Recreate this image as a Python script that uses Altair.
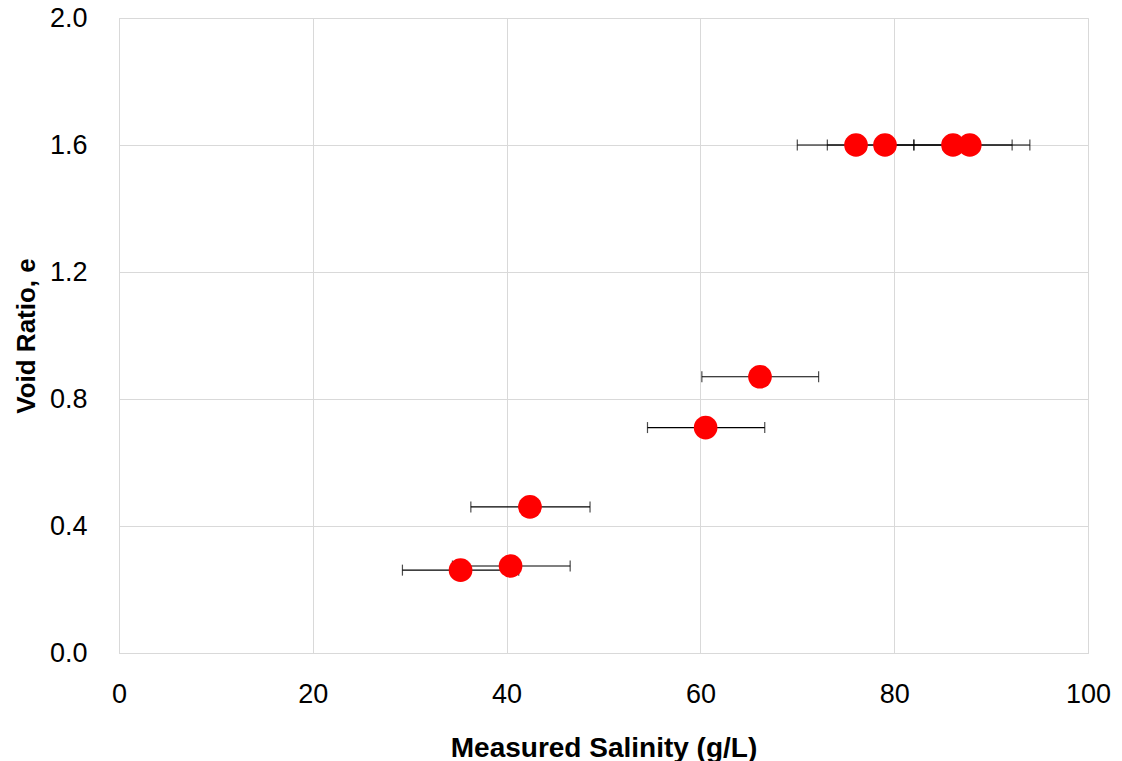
import altair as alt
import pandas as pd

salinity = [35.25, 40.41, 42.41, 60.54, 66.15, 76.06, 79.05, 86.07, 87.8]
void_ratio = [0.261, 0.274, 0.46, 0.710, 0.870, 1.6, 1.6, 1.6, 1.6]
err_low = [6.0, 6.0, 6.1, 6.0, 6.0, 6.06, 5.95, 6.07, 5.8]
err_high = [6.0, 6.15, 6.2, 6.1, 6.05, 6.0, 6.0, 6.1, 6.2]

df = pd.DataFrame({
    "x": salinity,
    "y": void_ratio,
    "lo": [s - e for s, e in zip(salinity, err_low)],
    "hi": [s + e for s, e in zip(salinity, err_high)],
})

xscale = alt.Scale(domain=[0, 100], nice=False, zero=True)
yscale = alt.Scale(domain=[0, 2.0], nice=False)

xaxis = alt.Axis(
    title="Measured Salinity (g/L)", values=[0, 20, 40, 60, 80, 100],
    format="d", ticks=False, domainColor="#d9d9d9", gridColor="#d9d9d9",
    labelFont="Liberation Sans", labelFontSize=27, labelColor="#000000",
    labelPadding=28, labelFlush=False, labelBound=False, labelOverlap=False,
    titleFont="Liberation Sans", titleFontSize=28,
    titleFontWeight="bold", titleColor="#000000", titlePadding=27,
)
yaxis = alt.Axis(
    title="Void Ratio, e", values=[0, 0.4, 0.8, 1.2, 1.6, 2.0],
    format=".1f", ticks=False, domainColor="#d9d9d9", gridColor="#d9d9d9",
    labelFont="Liberation Sans", labelFontSize=27, labelColor="#000000",
    labelPadding=32, labelFlush=False, labelBound=False, labelOverlap=False,
    titleFont="Liberation Sans", titleFontSize=26,
    titleFontWeight="bold", titleColor="#000000", titlePadding=10,
)

base = alt.Chart(df)

bars = base.mark_rule(color="#000000", strokeWidth=1.2).encode(
    x=alt.X("lo:Q", scale=xscale, axis=xaxis),
    x2="hi:Q",
    y=alt.Y("y:Q", scale=yscale, axis=yaxis),
)
cap_lo = base.mark_tick(color="#000000", orient="vertical", size=11, thickness=1.2).encode(
    x=alt.X("lo:Q", scale=xscale), y=alt.Y("y:Q", scale=yscale)
)
cap_hi = base.mark_tick(color="#000000", orient="vertical", size=11, thickness=1.2).encode(
    x=alt.X("hi:Q", scale=xscale), y=alt.Y("y:Q", scale=yscale)
)
points = base.mark_circle(color="#ff0000", opacity=1, size=560).encode(
    x=alt.X("x:Q", scale=xscale), y=alt.Y("y:Q", scale=yscale)
)

chart = alt.layer(bars, cap_lo, cap_hi, points).properties(
    width=969, height=635,
    autosize=alt.AutoSizeParams(type="none"),
    padding={"left": 111, "top": 10, "right": 24, "bottom": 108},
).configure_view(stroke="#d9d9d9").configure(background="#ffffff")

chart.save("out.html", embed_options={"renderer": "svg", "actions": False})
